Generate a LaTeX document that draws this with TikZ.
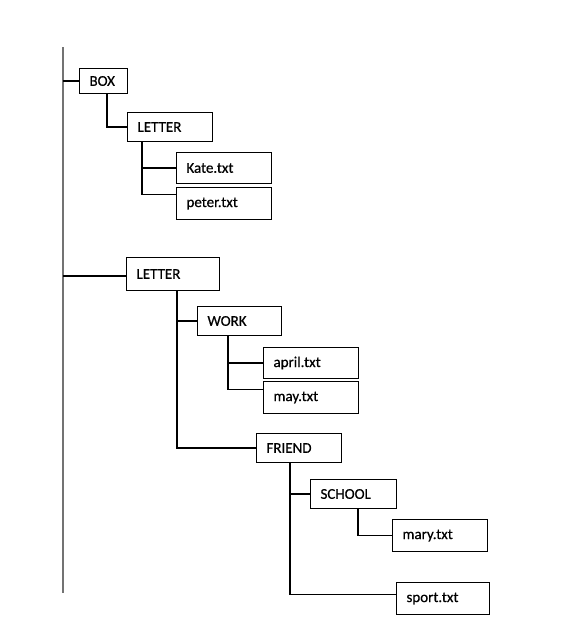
\documentclass[tikz,border=0pt]{standalone}
\usepackage{fontspec}
\setmainfont{Carlito}
\newfontfamily\boxfont{Carlito}[FakeBold=0.6]
\usetikzlibrary{positioning}

\begin{document}
\begin{tikzpicture}[x=1pt,y=-1pt,
  folder/.style={draw, rectangle, anchor=north west, inner xsep=10pt, inner ysep=0pt,
    align=left, line width=1pt, font=\boxfont\fontsize{15}{17}\selectfont},
  link/.style={line width=1.1pt}]
\useasboundingbox (0,0) rectangle (564,629);

\path[shape=coordinate]
(63,47) coordinate(t1) (63,593) coordinate(t2);
\draw[line width=1.6pt, black!55] (t1) -- (t2);

\node[folder, text width=28, minimum height=25] at (79,68) (box) {BOX};
\node[folder, text width=65, minimum height=29] at (127,112) (letA) {LETTER};
\node[folder, text width=75, minimum height=31] at (176,152) (kate) {Kate.txt};
\node[folder, text width=75, minimum height=32] at (176,187) (peter) {peter.txt};
\node[folder, text width=73, minimum height=33] at (126,257) (letB) {LETTER};
\node[folder, text width=64, minimum height=29] at (197,306) (work) {WORK};
\node[folder, text width=75, minimum height=31] at (263,347) (april) {april.txt};
\node[folder, text width=75, minimum height=32] at (263,381) (may) {may.txt};
\node[folder, text width=65, minimum height=29] at (256,433) (friend) {FRIEND};
\node[folder, text width=66, minimum height=29] at (310,479) (school) {SCHOOL};
\node[folder, text width=75, minimum height=32] at (392,519) (mary) {mary.txt};
\node[folder, text width=73, minimum height=32] at (396,582) (sport) {sport.txt};

\draw[link] (box.west -| t1) -- (box.west);
\draw[link] ([xshift=28]box.south west) |- (letA.west);
\draw[link] ([xshift=15]letA.south west) |- (kate.west);
\draw[link] ([xshift=15]letA.south west) |- ([yshift=9]peter.west);

\draw[link] ([yshift=-2]letB.west -| t1) -- ([yshift=-2]letB.west);
\draw[link] ([xshift=51]letB.south west) |- (work.west);
\draw[link] ([xshift=51]letB.south west) |- (friend.west);
\draw[link] ([xshift=31]work.south west) |- (april.west);
\draw[link] ([xshift=31]work.south west) |- ([yshift=8]may.west);
\draw[link] ([xshift=34]friend.south west) |- (school.west);
\draw[link] ([xshift=34]friend.south west) |- ([yshift=4]sport.west);
\draw[link] ([xshift=48]school.south west) |- (mary.west);

\end{tikzpicture}
\end{document}
